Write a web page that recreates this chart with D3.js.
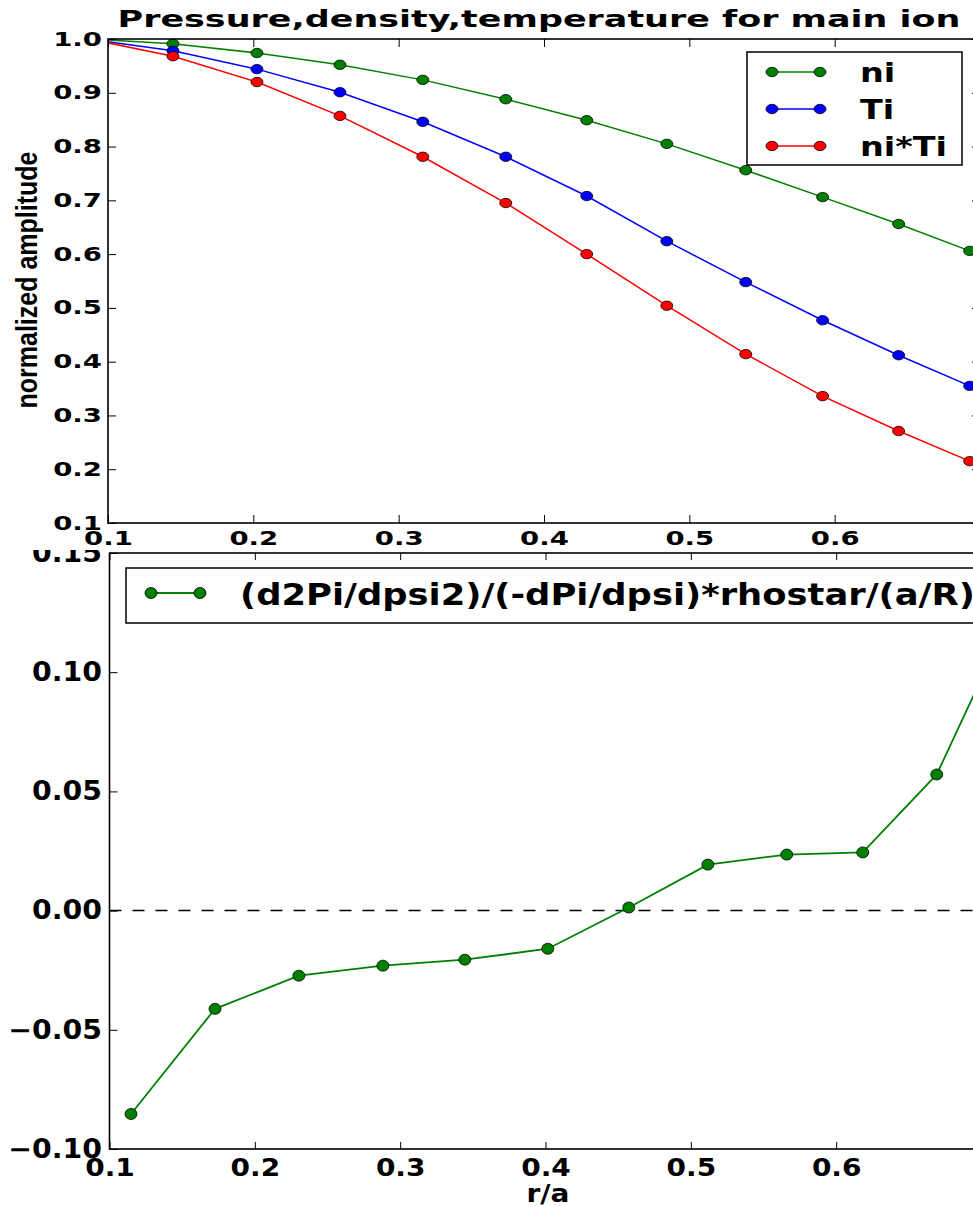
<!DOCTYPE html>
<html>
<head>
<meta charset="utf-8">
<script src="https://cdn.jsdelivr.net/npm/d3@7"></script>
<style>
  html, body { margin: 0; padding: 0; background: #fff; overflow: hidden; }
  svg { display: block; }
  text { font-family: "DejaVu Sans", sans-serif; font-weight: bold; fill: #000; }
</style>
</head>
<body>
<svg id="fig" width="973" height="1206"></svg>
<script>
// ---- data ---------------------------------------------------------------
// radial positions (r/a) of the profile samples
const rProfile = [0.087, 0.1447, 0.2025, 0.2596, 0.3166, 0.3737, 0.4294, 0.4845, 0.5388, 0.5917, 0.6440, 0.6929];
// normalized main-ion density, temperature and pressure
const niValues   = [1.000, 0.991, 0.974, 0.952, 0.924, 0.888, 0.849, 0.805, 0.756, 0.706, 0.656, 0.606];
const TiValues   = [1.000, 0.978, 0.944, 0.901, 0.846, 0.781, 0.708, 0.624, 0.548, 0.477, 0.412, 0.355];
const niTiValues = [1.000, 0.968, 0.920, 0.857, 0.781, 0.695, 0.600, 0.504, 0.414, 0.336, 0.271, 0.215];

// mid-points used for the curvature term
const rMid = [0.1148, 0.1726, 0.2303, 0.2881, 0.3445, 0.4016, 0.4573, 0.5117, 0.5660, 0.6183, 0.6692, 0.7165];
const curvValues = [-0.0853, -0.0412, -0.0273, -0.0231, -0.0206, -0.0160, 0.0013, 0.0193, 0.0235, 0.0244, 0.0571, 0.119];

const profileSeries = [
  { label: "ni",    values: niValues,   color: "#008000" },
  { label: "Ti",    values: TiValues,   color: "#0000ff" },
  { label: "ni*Ti", values: niTiValues, color: "#ff0000" }
];
const curvLabel = "(d2Pi/dpsi2)/(-dPi/dpsi)*rhostar/(a/R)";

const xTickValues = [0.1, 0.2, 0.3, 0.4, 0.5, 0.6];
const yTopTickValues = [0.1, 0.2, 0.3, 0.4, 0.5, 0.6, 0.7, 0.8, 0.9, 1.0];
const yBotTickValues = [-0.10, -0.05, 0.00, 0.05, 0.10, 0.15];

// ---- layout -------------------------------------------------------------
const upper = { left: 108, top: 39, width: 872, height: 484, fs: 19, sx: 1.45 };
const lower = { left: 109.5, top: 553, width: 872, height: 596, fs: 26, sx: 1.09, xfs: 25, xsx: 1.12 };

const svg = d3.select("#fig");
const defs = svg.append("defs");

const xTop = d3.scaleLinear().domain([0.1, 0.7]).range([upper.left, upper.left + upper.width]);
const yTop = d3.scaleLinear().domain([0.1, 1.0]).range([upper.top + upper.height, upper.top]);
const xBot = d3.scaleLinear().domain([0.1, 0.7]).range([lower.left, lower.left + lower.width]);
const yBot = d3.scaleLinear().domain([-0.10, 0.15]).range([lower.top + lower.height, lower.top]);

defs.append("clipPath").attr("id", "clipTop").append("rect")
  .attr("x", upper.left).attr("y", upper.top).attr("width", upper.width).attr("height", upper.height);
defs.append("clipPath").attr("id", "clipBot").append("rect")
  .attr("x", lower.left).attr("y", lower.top).attr("width", lower.width).attr("height", lower.height);
defs.append("clipPath").attr("id", "clipLower").append("rect")
  .attr("x", 0).attr("y", 550).attr("width", 973).attr("height", 656);

// text with separate horizontal scaling
function stretchedText(parent, x, y, str, fs, sx, anchor) {
  return parent.append("text")
    .attr("transform", `translate(${x},${y}) scale(${sx},1)`)
    .attr("text-anchor", anchor || "start")
    .style("font-size", fs + "px")
    .text(str);
}

function styleLeftLabels(g, fs, sx, pad) {
  g.selectAll(".tick text")
    .style("font-size", fs + "px")
    .style("font-family", "'DejaVu Sans', sans-serif")
    .style("font-weight", "bold")
    .attr("x", -pad / sx)
    .attr("transform", `scale(${sx},1)`);
}
function styleBottomLabels(g, fs, sx) {
  g.selectAll(".tick text")
    .style("font-size", fs + "px")
    .style("font-family", "'DejaVu Sans', sans-serif")
    .style("font-weight", "bold")
    .attr("transform", `scale(${sx},1)`);
}
function tidy(g) {
  g.select(".domain").remove();
  g.selectAll(".tick line").attr("stroke", "#000").attr("stroke-width", 1);
}

// ---- upper panel --------------------------------------------------------
const gTop = svg.append("g");

const topPlot = gTop.append("g").attr("clip-path", "url(#clipTop)");
const lineTop = d3.line().x((d, i) => xTop(rProfile[i])).y(d => yTop(d));
profileSeries.forEach(s => {
  topPlot.append("path").datum(s.values)
    .attr("d", lineTop).attr("fill", "none")
    .attr("stroke", s.color).attr("stroke-width", 1.5);
  topPlot.selectAll(null).data(s.values).enter().append("ellipse")
    .attr("cx", (d, i) => xTop(rProfile[i])).attr("cy", d => yTop(d))
    .attr("rx", 6).attr("ry", 4.7)
    .attr("fill", s.color).attr("stroke", "#000").attr("stroke-width", 0.8);
});

// ticks on all four sides, pointing inward
const axTopLeft = gTop.append("g").attr("transform", `translate(${upper.left},0)`)
  .call(d3.axisLeft(yTop).tickValues(yTopTickValues).tickFormat(d3.format(".1f"))
    .tickSizeInner(-8).tickSizeOuter(0).tickPadding(6));
tidy(axTopLeft); styleLeftLabels(axTopLeft, upper.fs, upper.sx, 6);

const axTopRight = gTop.append("g").attr("transform", `translate(${upper.left + upper.width},0)`)
  .call(d3.axisRight(yTop).tickValues(yTopTickValues).tickFormat("").tickSizeInner(-8).tickSizeOuter(0));
tidy(axTopRight);

const axTopBottom = gTop.append("g").attr("transform", `translate(0,${upper.top + upper.height})`)
  .call(d3.axisBottom(xTop).tickValues(xTickValues).tickFormat(d3.format(".1f"))
    .tickSizeInner(-8).tickSizeOuter(0).tickPadding(8.5));
tidy(axTopBottom); styleBottomLabels(axTopBottom, upper.fs, upper.sx);

const axTopTop = gTop.append("g").attr("transform", `translate(0,${upper.top})`)
  .call(d3.axisTop(xTop).tickValues(xTickValues).tickFormat("").tickSizeInner(-8).tickSizeOuter(0));
tidy(axTopTop);

gTop.append("rect")
  .attr("x", upper.left).attr("y", upper.top).attr("width", upper.width).attr("height", upper.height)
  .attr("fill", "none").attr("stroke", "#000").attr("stroke-width", 1.6);

// title and y label
stretchedText(gTop, 539, 27, "Pressure,density,temperature for main ion", 23.3, 1.5, "middle");
gTop.append("text")
  .attr("transform", "translate(37,280) rotate(-90) scale(1,1.15)")
  .attr("text-anchor", "middle")
  .style("font-family", "'Liberation Sans', Arial, sans-serif")
  .style("font-size", "25px")
  .text("normalized amplitude");

// legend
const legTop = gTop.append("g");
legTop.append("rect").attr("x", 747).attr("y", 52).attr("width", 215).attr("height", 113)
  .attr("fill", "#fff").attr("stroke", "#000").attr("stroke-width", 1.5);
profileSeries.forEach((s, i) => {
  const cy = 72 + i * 37;
  legTop.append("line").attr("x1", 772).attr("x2", 820).attr("y1", cy).attr("y2", cy)
    .attr("stroke", s.color).attr("stroke-width", 1.5);
  [772, 820].forEach(cx => legTop.append("ellipse")
    .attr("cx", cx).attr("cy", cy).attr("rx", 6).attr("ry", 4.7)
    .attr("fill", s.color).attr("stroke", "#000").attr("stroke-width", 0.8));
  stretchedText(legTop, 860, cy + 9.8, s.label, 27.4, 1.22, "start");
});

// ---- lower panel --------------------------------------------------------
const gBot = svg.append("g").attr("clip-path", "url(#clipLower)");

const botPlot = gBot.append("g").attr("clip-path", "url(#clipBot)");
botPlot.append("line")
  .attr("x1", lower.left).attr("x2", lower.left + lower.width)
  .attr("y1", yBot(0)).attr("y2", yBot(0))
  .attr("stroke", "#000").attr("stroke-width", 1.5).attr("stroke-dasharray", "12,11");
const lineBot = d3.line().x((d, i) => xBot(rMid[i])).y(d => yBot(d));
botPlot.append("path").datum(curvValues)
  .attr("d", lineBot).attr("fill", "none")
  .attr("stroke", "#008000").attr("stroke-width", 1.8);
botPlot.selectAll(null).data(curvValues).enter().append("ellipse")
  .attr("cx", (d, i) => xBot(rMid[i])).attr("cy", d => yBot(d))
  .attr("rx", 6).attr("ry", 5.5)
  .attr("fill", "#008000").attr("stroke", "#000").attr("stroke-width", 0.8);

const axBotLeft = gBot.append("g").attr("transform", `translate(${lower.left},0)`)
  .call(d3.axisLeft(yBot).tickValues(yBotTickValues).tickFormat(d3.format(".2f"))
    .tickSizeInner(-8).tickSizeOuter(0).tickPadding(7.5));
tidy(axBotLeft); styleLeftLabels(axBotLeft, lower.fs, lower.sx, 7.5);

const axBotRight = gBot.append("g").attr("transform", `translate(${lower.left + lower.width},0)`)
  .call(d3.axisRight(yBot).tickValues(yBotTickValues).tickFormat("").tickSizeInner(-8).tickSizeOuter(0));
tidy(axBotRight);

const axBotBottom = gBot.append("g").attr("transform", `translate(0,${lower.top + lower.height})`)
  .call(d3.axisBottom(xBot).tickValues(xTickValues).tickFormat(d3.format(".1f"))
    .tickSizeInner(-7).tickSizeOuter(0).tickPadding(9.25));
tidy(axBotBottom); styleBottomLabels(axBotBottom, lower.xfs, lower.xsx);

const axBotTop = gBot.append("g").attr("transform", `translate(0,${lower.top})`)
  .call(d3.axisTop(xBot).tickValues(xTickValues).tickFormat("").tickSizeInner(-7).tickSizeOuter(0));
tidy(axBotTop);

gBot.append("rect")
  .attr("x", lower.left).attr("y", lower.top).attr("width", lower.width).attr("height", lower.height)
  .attr("fill", "none").attr("stroke", "#000").attr("stroke-width", 1.6);

stretchedText(gBot, 548, 1202, "r/a", 25, 1.12, "middle");

// legend
const legBot = gBot.append("g");
legBot.append("rect").attr("x", 126).attr("y", 568).attr("width", 900).attr("height", 55)
  .attr("fill", "#fff").attr("stroke", "#000").attr("stroke-width", 1.5);
legBot.append("line").attr("x1", 151).attr("x2", 200).attr("y1", 593).attr("y2", 593)
  .attr("stroke", "#008000").attr("stroke-width", 1.8);
[151, 200].forEach(cx => legBot.append("ellipse")
  .attr("cx", cx).attr("cy", 593).attr("rx", 6).attr("ry", 5.5)
  .attr("fill", "#008000").attr("stroke", "#000").attr("stroke-width", 0.8));
stretchedText(legBot, 240, 605, curvLabel, 31, 1.14, "start");
</script>
</body>
</html>
